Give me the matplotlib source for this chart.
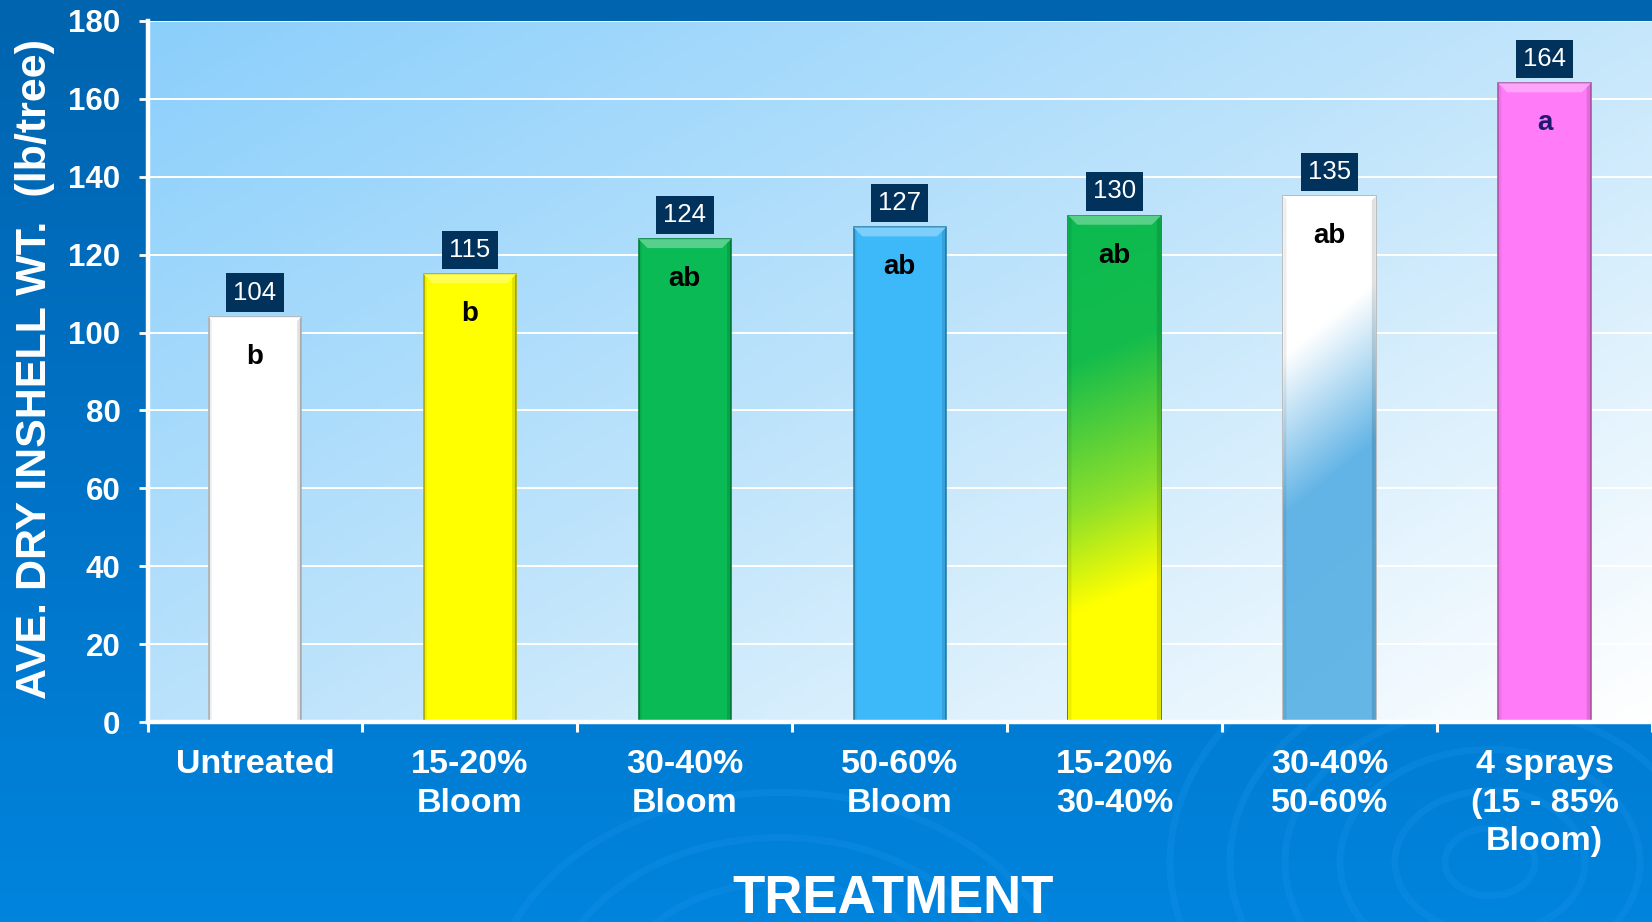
import matplotlib.pyplot as plt
import matplotlib.colors as mcolors
from matplotlib.patches import Polygon, Ellipse
import numpy as np

plt.rcParams['font.family'] = ['Liberation Sans', 'DejaVu Sans']

# data
treatments = ['Untreated', '15-20%\nBloom', '30-40%\nBloom', '50-60%\nBloom',
              '15-20%\n30-40%', '30-40%\n50-60%', '4 sprays\n(15 - 85%\nBloom)']
yields = [104, 115, 124, 127, 130, 135, 164]
letters = ['b', 'b', 'ab', 'ab', 'ab', 'ab', 'a']
yticks = [0, 20, 40, 60, 80, 100, 120, 140, 160, 180]

# bar styles
bar_colors = ['#FFFFFF', '#FFFF00', '#09BA55', '#3DB9F9', '#0BBA50', '#FFFFFF', '#FF7BF7']
letter_colors = ['black', 'black', 'black', 'black', 'black', 'black', '#1E1A6E']
# gradient stops (pixels down the bar, colour) for the two shaded bars
gradients = {
    4: (0.4, [(0, '#0BBA50'), (150, '#14BC4C'), (300, '#8EE02A'), (400, '#FFFF00'), (700, '#FFFF00')]),
    5: (0.8, [(0, '#FFFFFF'), (160, '#FFFFFF'), (320, '#62B4E6'), (700, '#66B8E6')]),
}

W, H = 1652, 922
fig = plt.figure(figsize=(W / 100, H / 100), dpi=100)

# slide background
bg = fig.add_axes([0, 0, 1, 1], zorder=-10)
grad = np.linspace(0, 1, 256).reshape(-1, 1)
bg_cmap = mcolors.LinearSegmentedColormap.from_list('bg', ['#0064AE', '#0072C6', '#0084DD'])
bg.imshow(grad, aspect='auto', cmap=bg_cmap, extent=[0, W, H, 0])
for cx, cy, radii in [(1490, 862, [45, 95, 150, 205, 260, 320]), (780, 1010, [170, 230, 290])]:
    for r in radii:
        bg.add_patch(Ellipse((cx, cy), 2 * r, 1.5 * r, fill=False, ec='#1A92EA', lw=5, alpha=0.3))
bg.set_xlim(0, W)
bg.set_ylim(H, 0)
bg.axis('off')

left, bottom, top = 147.5, 722, 21
ax = fig.add_axes([left / W, (H - bottom) / H, 1 - left / W, (bottom - top) / H])
ax.patch.set_alpha(0)

# plot area gradient (light blue top-left to white bottom-right)
gx, gy = np.meshgrid(np.linspace(0, 1, 200), np.linspace(0, 1, 200))
t = 0.55 * gx + 0.45 * gy
area_cmap = mcolors.LinearSegmentedColormap.from_list('area', ['#8BCFFC', '#BFE4FB', '#FFFFFF'])
ax.imshow(t, cmap=area_cmap, extent=[0, 1, 0, 1], transform=ax.transAxes,
          aspect='auto', origin='upper', zorder=0)

x = np.arange(len(treatments))
bw = 0.43
px_per_unit = (bottom - top) / 180.0
px_per_cat = 216.0

edge_colors = []
for c in bar_colors:
    rgb = np.array(mcolors.to_rgb(c))
    edge_colors.append(tuple(rgb * 0.7) if c != '#FFFFFF' else '#B5B5B5')

bars = ax.bar(x, yields, width=bw, color=bar_colors, edgecolor=edge_colors,
              linewidth=1.2, zorder=3)

for i, (k, stops) in gradients.items():
    h_px = yields[i] * px_per_unit
    w_px = bw * px_per_cat
    rows, cols = 300, 40
    depth = np.linspace(0, h_px, rows).reshape(-1, 1)
    xpx = np.linspace(0, w_px, cols).reshape(1, -1)
    u = depth + k * xpx
    pos = [s[0] for s in stops]
    rgbs = np.array([mcolors.to_rgb(s[1]) for s in stops])
    img = np.dstack([np.interp(u, pos, rgbs[:, ch]) for ch in range(3)])
    im = ax.imshow(img, extent=[x[i] - bw / 2, x[i] + bw / 2, 0, yields[i]],
                   aspect='auto', origin='upper', zorder=3.1, interpolation='bilinear')
    im.set_clip_path(bars[i])

# bevel and side shading
bev_h = 9 / px_per_unit
bev_w = 9 / px_per_cat
for i, b in enumerate(bars):
    x0, x1, yt = x[i] - bw / 2, x[i] + bw / 2, yields[i]
    top_c = bar_colors[i]
    light = tuple(np.array(mcolors.to_rgb(top_c)) * 0.6 + 0.4)
    ax.add_patch(Polygon([[x0, yt], [x1, yt], [x1 - bev_w, yt - bev_h], [x0 + bev_w, yt - bev_h]],
                         closed=True, fc=light, ec='none', alpha=0.8, zorder=3.3))
    ax.add_patch(Polygon([[x1 - 4 / px_per_cat, 0], [x1, 0], [x1, yt], [x1 - 4 / px_per_cat, yt - 4 / px_per_unit]],
                         closed=True, fc='black', ec='none', alpha=0.12, zorder=3.3))
    ax.add_patch(Polygon([[x0, 0], [x0 + 3 / px_per_cat, 0], [x0 + 3 / px_per_cat, yt - 3 / px_per_unit], [x0, yt]],
                         closed=True, fc='black', ec='none', alpha=0.07, zorder=3.3))

# value boxes and significance letters
for i, v in enumerate(yields):
    ax.annotate(str(v), (x[i], v), xytext=(0, 17.5), textcoords='offset points',
                ha='center', va='center', fontsize=18.5, color='white', zorder=5,
                bbox=dict(boxstyle='square,pad=0.28', fc='#01325B', ec='none'))
    ax.annotate(letters[i], (x[i], v), xytext=(0, -19.5), textcoords='offset points',
                ha='center', va='top', fontsize=20, fontweight='bold',
                color=letter_colors[i], zorder=5)

ax.set_xlim(-0.5, -0.5 + (W - left) / px_per_cat)
ax.set_ylim(0, 180)
ax.set_yticks(yticks)
ax.yaxis.grid(True, color='white', linewidth=1.4)
ax.set_axisbelow(True)
for g in ax.get_ygridlines():
    g.set_zorder(1)

for s in ['top', 'right']:
    ax.spines[s].set_visible(False)
for s in ['left', 'bottom']:
    ax.spines[s].set_color('white')
    ax.spines[s].set_linewidth(3.2)
    ax.spines[s].set_zorder(4)

ax.tick_params(axis='y', colors='white', length=6.5, width=2, pad=13,
               labelsize=22.5, direction='out')
for lbl in ax.get_yticklabels():
    lbl.set_fontweight('bold')

ax.set_xticks(x)
ax.set_xticklabels(treatments, fontsize=24.5, fontweight='bold', color='white', linespacing=1.32)
ax.tick_params(axis='x', which='major', length=0, pad=19.5)
ax.set_xticks(np.arange(len(treatments) + 1) - 0.5, minor=True)
ax.tick_params(axis='x', which='minor', length=7.5, width=2.2, color='white', direction='out')

fig.text(35 / W, 1 - 369 / H, 'AVE. DRY INSHELL WT.  (lb/tree)', rotation=90,
         ha='center', va='center', fontsize=31, fontweight='bold', color='white')
fig.text(893 / W, (H - 913) / H, 'TREATMENT', ha='center', va='baseline',
         fontsize=38, fontweight='bold', color='white')

fig.savefig('out.png', dpi=100)
